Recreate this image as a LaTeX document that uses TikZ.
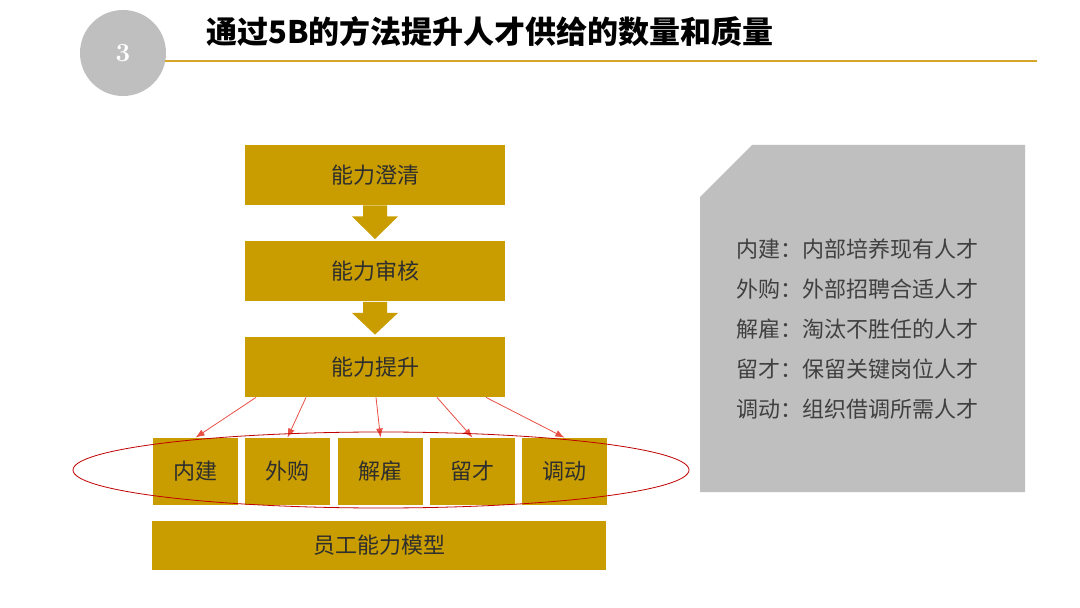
\documentclass[tikz,border=0pt]{standalone}
\usepackage{fontspec}
\newfontfamily\cjk{Noto Sans CJK SC}
\usepackage{xcolor}
\usepackage{tikz}
\usetikzlibrary{arrows.meta,calc}
\definecolor{gold}{RGB}{201,157,0}
\definecolor{goldline}{RGB}{212,165,40}
\definecolor{panelgrey}{RGB}{191,191,191}
\definecolor{inkgrey}{RGB}{64,64,64}
\definecolor{linkred}{RGB}{232,80,70}
\definecolor{ringred}{RGB}{192,0,0}
\tikzset{
  stagebox/.style ={fill=gold,align=center,text=black!82,inner sep=0pt,
                    font=\cjk\fontsize{11}{13}\selectfont,
                    minimum width=130pt,minimum height=30pt},
  waybox/.style   ={stagebox,minimum width=42.5pt,minimum height=33.5pt},
  basebox/.style  ={stagebox,minimum width=227pt,minimum height=24.5pt},
  notetext/.style ={align=left,text=inkgrey,inner sep=0pt,
                    font=\cjk\fontsize{11}{20}\selectfont},
  redarr/.style   ={-{Latex[length=1.6mm,width=1.2mm]},linkred,thin},
}

\begin{document}
\begin{tikzpicture}[x=0.5pt,y=-0.5pt]
\fill[white] (0,0) rectangle (1080,608);
\useasboundingbox (0,0) rectangle (1080,608);

% --- heading ---------------------------------------------------------------
\node[circle,fill=panelgrey,minimum size=43pt,inner sep=0pt,text=white,
      font=\bfseries\fontsize{13}{15}\selectfont] (num) at (123,53) {3};
\node[anchor=west,inner sep=0pt,font=\cjk\bfseries\fontsize{15.5}{18}\selectfont]
  (title) at (206,32) {通过5B的方法提升人才供给的数量和质量};
\draw[goldline,line width=1pt] (165,61) -- (1037,61);

% --- stages ----------------------------------------------------------------
\node[stagebox] (c1) at (375,175)   {能力澄清};
\node[stagebox] (c2) at (375,271.5) {能力审核};
\node[stagebox] (c3) at (375,367)   {能力提升};
\foreach \a/\b in {c1/c2,c2/c3}
  \fill[gold] ($(\a.south)+(-12,0)$) -- ++(24,0) -- ++(0,11) -- ++(11,0)
    -- ($(\b.north)+(0,-2)$) -- ($(\a.south)+(-23,11)$) -- ++(11,0) -- cycle;

% --- five ways -------------------------------------------------------------
\node[waybox] (w1) at (195.5,471.5) {内建};
\node[waybox] (w2) at (287.5,471.5) {外购};
\node[waybox] (w3) at (380.5,471.5) {解雇};
\node[waybox] (w4) at (472.5,471.5) {留才};
\node[waybox] (w5) at (564.5,471.5) {调动};
\foreach \dx/\w in {-119/w1,-69/w2,1/w3,62/w4,111/w5}
  \draw[redarr] ($(c3.south)+(\dx,0)$) -- (\w.north);
\draw[ringred,thin] (381,470) ellipse [x radius=308,y radius=38];

\node[basebox] (base) at (379,545.5) {员工能力模型};

% --- note panel ------------------------------------------------------------
\fill[panelgrey] (752,145) -- (1025,145) -- (1025,492) -- (700,492)
  -- (700,197) -- cycle;
\node[notetext,anchor=west] (note) at (736,329)
  {内建：内部培养现有人才\\
   外购：外部招聘合适人才\\
   解雇：淘汰不胜任的人才\\
   留才：保留关键岗位人才\\
   调动：组织借调所需人才};

\end{tikzpicture}
\end{document}
